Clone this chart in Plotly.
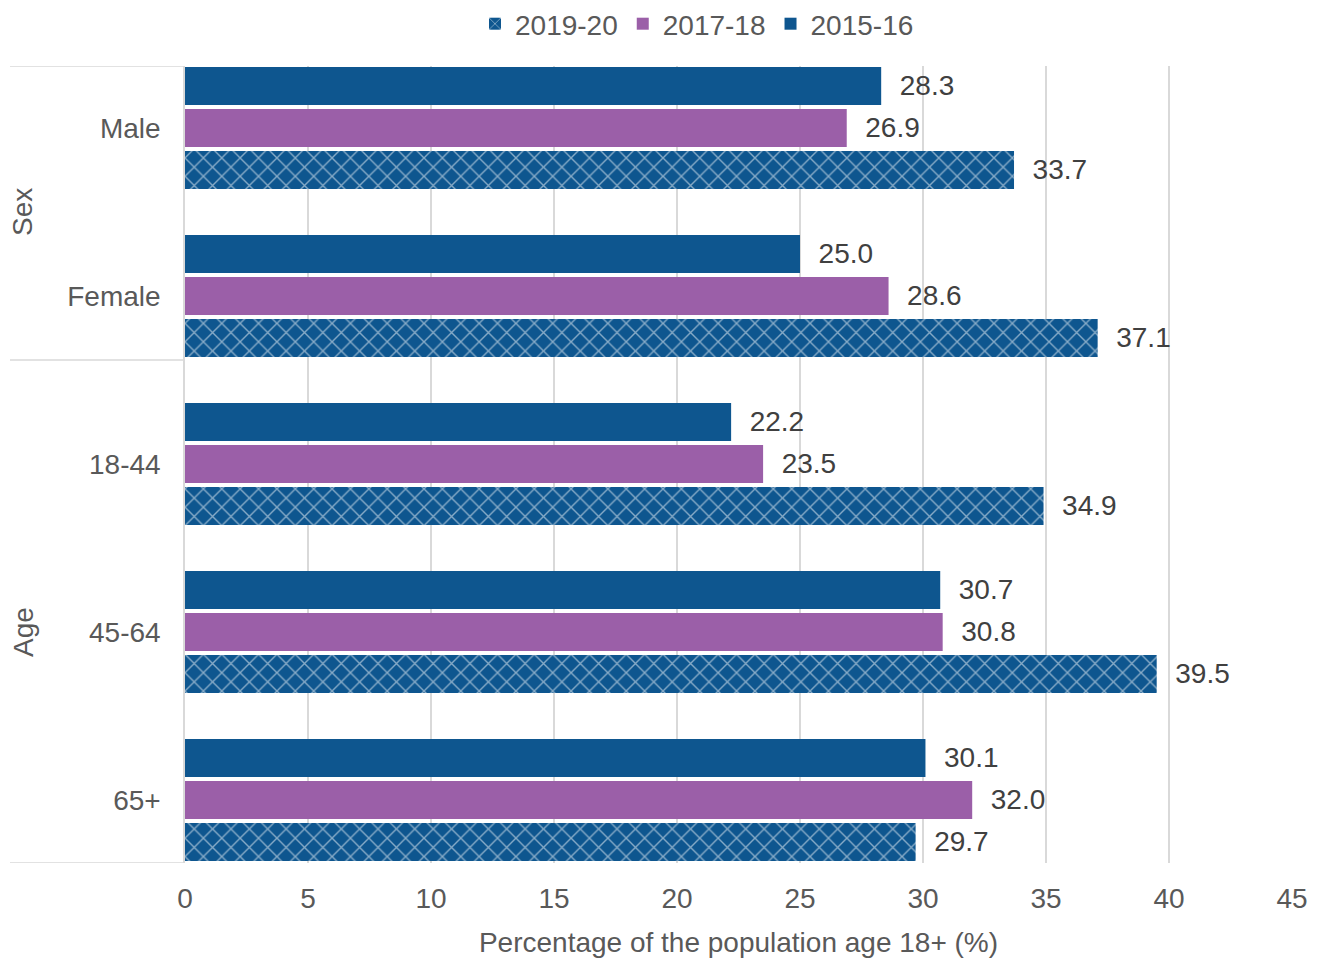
import plotly.graph_objects as go

categories = ['Male', 'Female', '18-44', '45-64', '65+']
groups = ['Sex', 'Age']
group_centres = [0.5, 3.0]  # where each group label sits, in category units
vals_2015 = [28.3, 25.0, 22.2, 30.7, 30.1]
vals_2017 = [26.9, 28.6, 23.5, 30.8, 32.0]
vals_2019 = [33.7, 37.1, 34.9, 39.5, 29.7]

BLUE = '#0E568F'
PURPLE = '#9B5FA8'
TXT = '#595959'
LBL = '#404040'
GRID = '#d9d9d9'
FONT = 'Liberation Sans, Arial, sans-serif'
PAD = '\u00a0\u00a0'

# page body has an 8px margin, so the figure is 8px smaller than the window
W, H = 1311, 950
ML, MR, MT, MB = 177, 27, 58, 95
PW = W - ML - MR

Y_TOP, Y_BOT = -0.369, 4.375

fig = go.Figure()
fig.add_trace(go.Bar(
	name='2015-16', y=categories, x=vals_2015, orientation='h',
	marker=dict(color=BLUE, line=dict(width=0)),
	text=[PAD + f'{v:.1f}' for v in vals_2015], textposition='outside',
))
fig.add_trace(go.Bar(
	name='2017-18', y=categories, x=vals_2017, orientation='h',
	marker=dict(color=PURPLE, line=dict(width=0)),
	text=[PAD + f'{v:.1f}' for v in vals_2017], textposition='outside',
))
fig.add_trace(go.Bar(
	name='2019-20', y=categories, x=vals_2019, orientation='h',
	marker=dict(color=BLUE, line=dict(width=0),
		pattern=dict(shape='x', fgcolor='white', size=13, solidity=0.2)),
	text=[PAD + f'{v:.1f}' for v in vals_2019], textposition='outside',
))
fig.update_traces(textfont=dict(size=28, color=LBL, family=FONT), cliponaxis=False)

# group separators and labels on the left
lx0 = -(ML - 2) / PW
for b in [Y_TOP, 1.381, Y_BOT]:
	fig.add_shape(type='line', xref='paper', yref='y', x0=lx0, x1=0, y0=b, y1=b,
		line=dict(color=GRID, width=1.5))
for g, c in zip(groups, group_centres):
	fig.add_annotation(text=g, xref='paper', yref='y', x=(15 - ML) / PW, y=c,
		xanchor='center', yanchor='middle',
		textangle=-90, showarrow=False, font=dict(size=28, color=TXT, family=FONT))

fig.update_layout(
	width=W, height=H,
	margin=dict(l=ML, r=MR, t=MT, b=MB, autoexpand=False),
	paper_bgcolor='white', plot_bgcolor='white',
	barmode='group', bargap=0.25, bargroupgap=0.095,
	font=dict(family=FONT, size=28, color=TXT),
	legend=dict(orientation='h', x=0.4625, xanchor='center', yref='container',
		y=1 - 16 / H, yanchor='middle', traceorder='reversed',
		font=dict(size=28, color=TXT), itemwidth=30),
	xaxis=dict(range=[0, 45], dtick=5, showgrid=True, gridcolor=GRID, gridwidth=1.5,
		zeroline=False, ticks='', ticklabelstandoff=16, tickfont=dict(size=28, color=TXT),
		title=dict(text='Percentage of the population age 18+ (%)', font=dict(size=28, color=TXT), standoff=20)),
	yaxis=dict(autorange=False, range=[Y_BOT, Y_TOP], showline=True, linecolor=GRID, linewidth=1.5,
		ticks='', ticklabelstandoff=17, tickfont=dict(size=28, color=TXT)),
)

fig.write_html('out.html')
